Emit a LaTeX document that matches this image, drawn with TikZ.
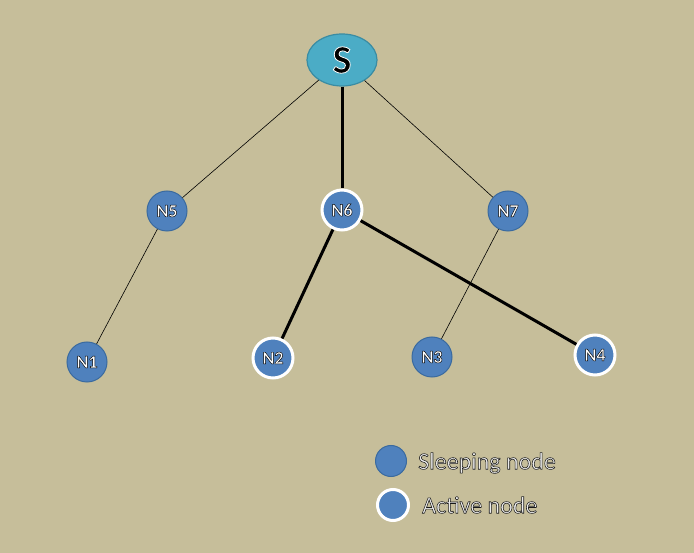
\documentclass[tikz,border=0pt]{standalone}
\usepackage{fontspec}
\setmainfont{Carlito}
\usetikzlibrary{shapes.geometric}
\definecolor{bg}{HTML}{C6BE9A}
\definecolor{nodefill}{HTML}{4F81BD}
\definecolor{nodeedge}{HTML}{3A6A9F}
\definecolor{sfill}{HTML}{4BACC6}
\definecolor{sedge}{HTML}{3A8CA3}
\definecolor{legtext}{HTML}{EDEDED}
\tikzset{
  sleep/.style={circle, fill=nodefill, draw=nodeedge, line width=1pt, minimum size=40pt, inner sep=0pt, font=\fontsize{18}{18}\selectfont\bfseries},
  active/.style={circle, fill=nodefill, draw=white, line width=3pt, minimum size=40pt, inner sep=0pt, font=\fontsize{18}{18}\selectfont\bfseries},
  thinedge/.style={draw=black, line width=0.6pt},
  thickedge/.style={draw=black, line width=3pt},
  legtxt/.style={anchor=west, inner sep=0pt, font=\fontsize{24}{24}\selectfont}
}
% outlined text: fill colour #1, outline colour given as PDF RG triple #2, width #3
\newcommand{\outl}[4]{\textcolor{#1}{\special{pdf:literal q #2 RG 2 Tr #3 w}#4\special{pdf:literal Q}}}
\newcommand{\nlab}[1]{\outl{white}{0 0 0}{0.45}{#1}}
\begin{document}
\begin{tikzpicture}[x=1pt,y=-1pt]
\fill[bg] (0,0) rectangle (694,553);
\useasboundingbox (0,0) rectangle (694,553);
\node[ellipse, fill=sfill, draw=sedge, line width=1.2pt, minimum width=70pt, minimum height=52pt, inner sep=0pt, font=\fontsize{40}{40}\selectfont\bfseries] (S) at (342,60) {\outl{black}{1 1 1}{0.8}{S}};
\node[sleep] (N5) at (167,211) {\nlab{N5}};
\node[active] (N6) at (342,210) {\nlab{N6}};
\node[sleep] (N7) at (508,211) {\nlab{N7}};
\node[sleep] (N1) at (87,362) {\nlab{N1}};
\node[active] (N2) at (273,358) {\nlab{N2}};
\node[sleep] (N3) at (432,357) {\nlab{N3}};
\node[active] (N4) at (595,355) {\nlab{N4}};
\draw[thinedge] (S) -- (N5);
\draw[thinedge] (S) -- (N7);
\draw[thinedge] (N5) -- (N1);
\draw[thinedge] (N7) -- (N3);
\draw[thickedge] (S) -- (N6);
\draw[thickedge] (N6) -- (N2);
\draw[thickedge] (N6) -- (N4);
\node[sleep, minimum size=31pt] (L1) at (391,461) {};
\node[active, minimum size=31pt] (L2) at (393,505) {};
\node[legtxt] (T1) at (418,463) {\outl{legtext}{0.1 0.1 0.1}{0.55}{Sleeping node}};
\node[legtxt] (T2) at (422,505) {\outl{legtext}{0.1 0.1 0.1}{0.55}{Active node}};
\end{tikzpicture}
\end{document}
